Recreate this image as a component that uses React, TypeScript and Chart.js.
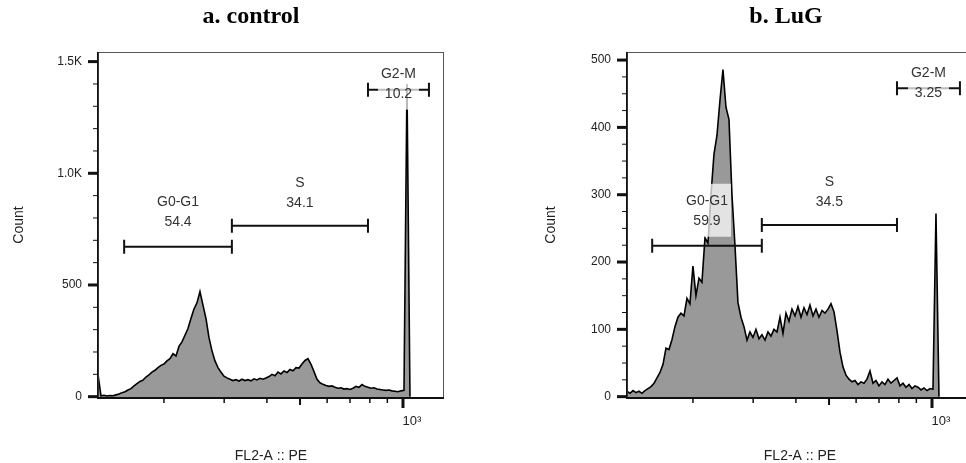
import React, { useEffect, useRef } from "react";
import { Chart, registerables } from "chart.js";

Chart.register(...registerables);

const SANS = "'Liberation Sans', Arial, Helvetica, sans-serif";
const SERIF = "'Liberation Serif', 'Times New Roman', serif";
Chart.defaults.font.family = SANS;

// FL2-A channel values (bin centres, log axis)
const channels = [
  128.3, 130.9, 133.6, 136.3, 139.1, 141.9, 144.8, 147.8, 150.8, 153.9,
  157.0, 160.2, 163.5, 166.8, 170.2, 173.7, 177.2, 180.8, 184.5, 188.3,
  192.1, 196.0, 200.0, 204.1, 208.3, 212.5, 216.9, 221.3, 225.8, 230.4,
  235.1, 239.9, 244.8, 249.8, 254.9, 260.1, 265.4, 270.8, 276.4, 282.0,
  287.8, 293.6, 299.6, 305.7, 312.0, 318.3, 324.8, 331.5, 338.2, 345.1,
  352.2, 359.4, 366.7, 374.2, 381.8, 389.6, 397.6, 405.7, 414.0, 422.4,
  431.0, 439.8, 448.8, 458.0, 467.3, 476.9, 486.6, 496.5, 506.6, 517.0,
  527.5, 538.3, 549.3, 560.5, 571.9, 583.6, 595.5, 607.6, 620.0, 632.7,
  645.6, 658.7, 672.2, 685.9, 699.9, 714.2, 728.7, 743.6, 758.8, 774.3,
  790.1, 806.2, 822.6, 839.4, 856.5, 874.0, 891.8, 910.0, 928.6, 947.5,
  966.8, 986.6, 1006.7, 1027.2, 1048.2,
];

const controlCounts = [
  100, 4, 6, 3, 5, 4, 8, 12, 18, 22,
  30, 36, 48, 58, 68, 74, 88, 98, 110, 118,
  130, 140, 146, 160, 170, 192, 182, 225, 245, 275,
  305, 350, 392, 420, 470, 410, 350, 265, 205, 160,
  130, 110, 92, 84, 78, 72, 76, 70, 78, 72,
  76, 71, 80, 75, 82, 78, 84, 90, 100, 94,
  110, 102, 115, 108, 122, 116, 130, 128, 146, 162,
  170, 145, 112, 78, 62, 55, 50, 46, 48, 42,
  38, 40, 34, 36, 32, 38, 46, 42, 54, 46,
  42, 38, 40, 34, 32, 30, 28, 30, 26, 24,
  22, 26, 28, 1400, 0,
];

const lugCounts = [
  8, 5, 9, 6, 8, 5, 9, 12, 15, 20,
  28, 36, 48, 72, 70, 85, 104, 118, 124, 120,
  146, 138, 194, 150, 176, 170, 236, 228, 300, 360,
  388, 440, 486, 430, 412, 300, 225, 140, 118, 104,
  84, 96, 88, 100, 86, 92, 84, 96, 90, 100,
  96, 118, 94, 124, 112, 130, 120, 134, 118, 132,
  122, 136, 120, 130, 118, 128, 124, 130, 138, 126,
  98, 66, 44, 32, 26, 22, 24, 18, 22, 20,
  26, 38, 20, 24, 16, 22, 18, 26, 20, 24,
  28, 16, 20, 14, 18, 12, 16, 14, 10, 13,
  9, 12, 11, 272, 0,
];

const xMin = 128.3;
const xMax = 1318;
const xTicks = [200, 300, 400, 500, 600, 700, 800, 900, 1000];
const xTickLabels = ["", "", "", "", "", "", "", "", "10³"];

const controlYMajor = [0, 500, 1000, 1500];
const controlYLabels = ["0", "500", "1.0K", "1.5K"];
const controlYMinor = [100, 200, 300, 400, 600, 700, 800, 900, 1100, 1200, 1300, 1400];
const lugYMajor = [0, 100, 200, 300, 400, 500];
const lugYLabels = ["0", "100", "200", "300", "400", "500"];
const lugYMinor = [25, 50, 75, 125, 150, 175, 225, 250, 275, 325, 350, 375, 425, 450, 475];

const gateNames = ["G0-G1", "S", "G2-M"];
const controlGateStart = [153, 316, 790];
const controlGateEnd = [316, 790, 1191];
const controlGateLevel = [671, 765, 1374];
const controlLabelLevel = [873, 958, 1446];
const controlPercent = ["54.4", "34.1", "10.2"];

const lugGateStart = [152, 318, 790];
const lugGateEnd = [318, 790, 1207];
const lugGateLevel = [224, 255, 458];
const lugLabelLevel = [291, 319, 481];
const lugPercent = ["59.9", "34.5", "3.25"];

type PanelDef = {
  title: string;
  titleX: number;
  canvasLeft: number;
  countTitlePad: number;
  counts: number[];
  yMin: number;
  yMax: number;
  yMajor: number[];
  yLabels: string[];
  yMinor: number[];
  gateStart: number[];
  gateEnd: number[];
  gateLevel: number[];
  labelLevel: number[];
  percent: string[];
};

const panels: PanelDef[] = [
  {
    title: "a. control",
    titleX: 251,
    canvasLeft: 0,
    countTitlePad: 11,
    counts: controlCounts,
    yMin: -6,
    yMax: 1543,
    yMajor: controlYMajor,
    yLabels: controlYLabels,
    yMinor: controlYMinor,
    gateStart: controlGateStart,
    gateEnd: controlGateEnd,
    gateLevel: controlGateLevel,
    labelLevel: controlLabelLevel,
    percent: controlPercent,
  },
  {
    title: "b. LuG",
    titleX: 257,
    canvasLeft: 529,
    countTitlePad: 14,
    counts: lugCounts,
    yMin: -2,
    yMax: 512,
    yMajor: lugYMajor,
    yLabels: lugYLabels,
    yMinor: lugYMinor,
    gateStart: lugGateStart,
    gateEnd: lugGateEnd,
    gateLevel: lugGateLevel,
    labelLevel: lugLabelLevel,
    percent: lugPercent,
  },
];

const CW = 483;
const CH = 463;

function decorPlugin(p: PanelDef) {
  return {
    id: "flowDecor",
    afterDraw(chart: any) {
      const { ctx, chartArea } = chart;
      const { left, top, right, bottom } = chartArea;
      const xs = chart.scales.x;
      const ys = chart.scales.y;
      ctx.save();

      // frame
      ctx.strokeStyle = "#555";
      ctx.lineWidth = 1;
      ctx.strokeRect(left + 0.5, top + 0.5, right - left - 1, bottom - top);
      ctx.fillStyle = "#111";
      ctx.fillRect(left - 1, top, 1.5, bottom - top);
      ctx.fillRect(left - 1, bottom - 1, right - left + 1, 2);

      // y ticks
      p.yMajor.forEach((v) => {
        const py = ys.getPixelForValue(v);
        ctx.fillRect(left - 10, py - 1.5, 10, 3);
      });
      p.yMinor.forEach((v) => {
        const py = ys.getPixelForValue(v);
        ctx.fillRect(left - 5, py - 0.5, 5, 1);
      });

      // x ticks
      xTicks.forEach((v) => {
        const px = xs.getPixelForValue(v);
        if (v === 1000) ctx.fillRect(px - 1.5, bottom, 3, 10);
        else if (v === 500) ctx.fillRect(px - 1, bottom, 2, 7);
        else ctx.fillRect(px - 0.75, bottom, 1.5, 5);
      });

      // gates
      ctx.strokeStyle = "#111";
      ctx.lineWidth = 2;
      const centres: number[] = [];
      gateNames.forEach((_, i) => {
        const x1 = xs.getPixelForValue(p.gateStart[i]);
        const x2 = xs.getPixelForValue(p.gateEnd[i]);
        const gy = ys.getPixelForValue(p.gateLevel[i]);
        centres.push((x1 + x2) / 2);
        ctx.beginPath();
        ctx.moveTo(x1, gy);
        ctx.lineTo(x2, gy);
        ctx.moveTo(x1, gy - 7);
        ctx.lineTo(x1, gy + 7);
        ctx.moveTo(x2, gy - 7);
        ctx.lineTo(x2, gy + 7);
        ctx.stroke();
      });

      // gate labels with translucent boxes
      ctx.font = `14px ${SANS}`;
      ctx.textAlign = "center";
      ctx.textBaseline = "middle";
      gateNames.forEach((name, i) => {
        const cx = centres[i];
        const ly = ys.getPixelForValue(p.labelLevel[i]);
        const w = Math.max(ctx.measureText(name).width, ctx.measureText(p.percent[i]).width);
        ctx.fillStyle = "rgba(255,255,255,0.72)";
        ctx.fillRect(cx - w / 2 - 3, ly - 17, w + 6, 53);
        ctx.fillStyle = "#333";
        ctx.fillText(name, cx, ly);
        ctx.fillText(p.percent[i], cx, ly + 20);
      });

      // panel title
      ctx.font = `bold 24px ${SERIF}`;
      ctx.fillStyle = "#000";
      ctx.textBaseline = "alphabetic";
      ctx.fillText(p.title, p.titleX, 23);

      ctx.restore();
    },
  };
}

function Panel({ p }: { p: PanelDef }) {
  const ref = useRef<HTMLCanvasElement>(null);
  useEffect(() => {
    const canvas = ref.current;
    if (!canvas) return;
    const chart = new Chart(canvas, {
      type: "line",
      data: {
        datasets: [
          {
            data: channels.map((x, i) => ({ x, y: p.counts[i] })),
            borderColor: "#000",
            borderWidth: 1.6,
            backgroundColor: "#999999",
            fill: "start",
            pointRadius: 0,
            tension: 0,
          },
        ],
      },
      options: {
        animation: false,
        responsive: false,
        devicePixelRatio: 1,
        layout: { padding: { left: 0, top: 52, right: 39, bottom: 0 } },
        plugins: {
          legend: { display: false },
          tooltip: { enabled: false },
          title: { display: false },
        },
        scales: {
          x: {
            type: "logarithmic",
            min: xMin,
            max: xMax,
            afterBuildTicks: (s: any) => {
              s.ticks = xTicks.map((v) => ({ value: v }));
            },
            afterFit: (s: any) => {
              s.height = 65;
            },
            grid: { display: false, drawTicks: false },
            border: { display: false },
            ticks: {
              autoSkip: false,
              maxRotation: 0,
              minRotation: 0,
              padding: 16,
              labelOffset: 9,
              color: "#222",
              font: { family: SANS, size: 13 },
              callback: (_v: any, i: number) => xTickLabels[i],
            },
            title: {
              display: true,
              text: "FL2-A :: PE",
              color: "#222",
              font: { family: SANS, size: 14, lineHeight: 1 },
              padding: 0,
            },
          },
          y: {
            type: "linear",
            min: p.yMin,
            max: p.yMax,
            afterBuildTicks: (s: any) => {
              s.ticks = p.yMajor.map((v) => ({ value: v }));
            },
            afterFit: (s: any) => {
              s.width = 98;
            },
            grid: { display: false, drawTicks: false },
            border: { display: false },
            ticks: {
              autoSkip: false,
              padding: 16,
              color: "#222",
              font: { family: SANS, size: 12 },
              callback: (_v: any, i: number) => p.yLabels[i],
            },
            title: {
              display: true,
              text: "Count",
              color: "#222",
              font: { family: SANS, size: 14, lineHeight: 1.2 },
              padding: { top: p.countTitlePad, bottom: 0 },
            },
          },
        },
      },
      plugins: [decorPlugin(p)],
    } as any);
    return () => chart.destroy();
  }, [p]);
  return (
    <canvas
      ref={ref}
      width={CW}
      height={CH}
      style={{ position: "absolute", left: p.canvasLeft, top: 0, width: CW, height: CH }}
    />
  );
}

export default function App() {
  return (
    <div
      style={{
        position: "absolute",
        left: 0,
        top: 0,
        width: 966,
        height: 463,
        overflow: "hidden",
        background: "#fff",
      }}
    >
      {panels.map((p) => (
        <Panel key={p.title} p={p} />
      ))}
    </div>
  );
}
